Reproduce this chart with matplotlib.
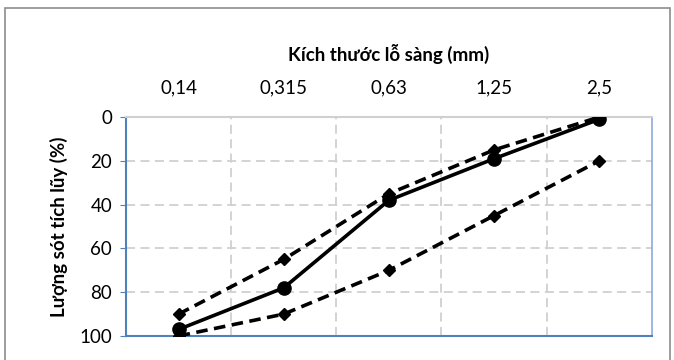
import matplotlib
matplotlib.use("Agg")
import matplotlib.pyplot as plt
from matplotlib.patches import Rectangle

# cỡ sàng (mm) và lượng sót tích lũy (%)
sizes = ["0,14", "0,315", "0,63", "1,25", "2,5"]
sample = [97, 78, 38, 19, 1]
upper_limit = [90, 65, 35, 15, 0]
lower_limit = [100, 90, 70, 45, 20]

plt.rcParams['font.family'] = ['Lato', 'DejaVu Sans']

fig = plt.figure(figsize=(6.74, 3.6), dpi=100)
ax = fig.add_axes([0.187, 0.0667, 0.780, 0.608])

x = list(range(len(sizes)))
ax.plot(x, upper_limit, color="black", lw=2.6, ls=(0, (3.2, 1.8)), marker="D", markersize=6.5, zorder=3)
ax.plot(x, lower_limit, color="black", lw=2.6, ls=(0, (3.2, 1.8)), marker="D", markersize=6.5, zorder=3)
ax.plot(x, sample, color="black", lw=2.6, marker="o", markersize=9.5, zorder=4)

ax.set_xlim(-0.5, len(sizes) - 0.5)
ax.set_ylim(100, 0)
ax.set_yticks([0, 20, 40, 60, 80, 100])
ax.set_xticks(x)
ax.set_xticklabels(sizes)
ax.xaxis.tick_top()
ax.xaxis.set_label_position("top")
ax.tick_params(axis="x", length=0, pad=15, labelsize=13.5)
ax.tick_params(axis="y", length=4, color="#4f81bd", labelsize=13.5, pad=6)

# lưới đứng nằm giữa các cỡ sàng
for b in [0.5, 1.5, 2.5, 3.5]:
    ax.axvline(b, color="#d0d0d0", lw=1.3, ls=(0, (5, 3)), zorder=1)
for g in [20, 40, 60, 80]:
    ax.axhline(g, color="#d0d0d0", lw=1.3, ls=(0, (5, 3)), zorder=1)

ax.spines["left"].set_color("#4f81bd")
ax.spines["left"].set_linewidth(1.5)
ax.spines["bottom"].set_color("#4f81bd")
ax.spines["bottom"].set_linewidth(1.5)
ax.spines["top"].set_color("#d0d0d0")
ax.spines["top"].set_linewidth(1.5)
ax.spines["right"].set_color("#8eaadb")
ax.spines["right"].set_linewidth(1.2)

ax.set_xlabel("Kích thước lỗ sàng (mm)", fontsize=13.5, fontweight="bold", labelpad=13)
ax.set_ylabel("Lượng sót tích lũy (%)", fontsize=13.5, fontweight="bold", labelpad=8)

fig.patches.append(Rectangle((5 / 674, -0.1), 665 / 674, 1.1 - 8 / 360,
                             transform=fig.transFigure, fill=False,
                             edgecolor="#8c8c8c", lw=1.2))

fig.savefig("out.png", dpi=100)
